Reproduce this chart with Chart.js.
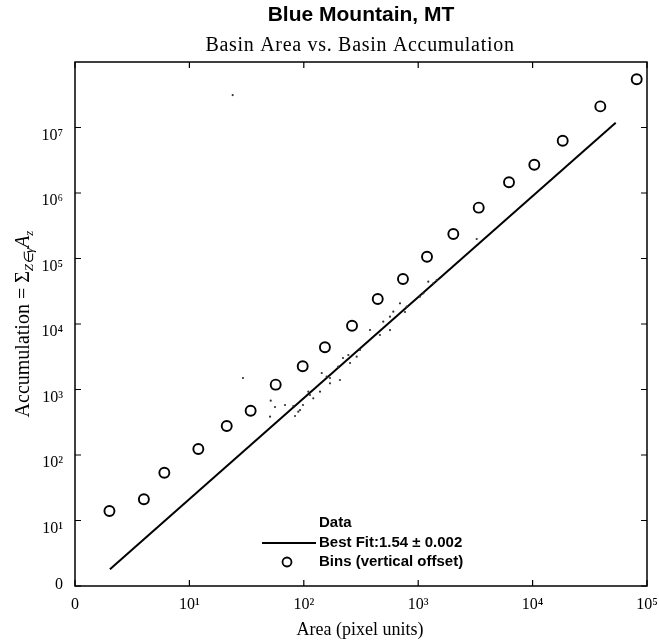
<!DOCTYPE html>
<html>
<head>
<meta charset="utf-8">
<script src="https://cdn.jsdelivr.net/npm/chart.js@4.4.1/dist/chart.umd.min.js"></script>
<style>
  html, body { margin: 0; padding: 0; background: #fff; }
  #wrap { width: 659px; height: 640px; }
</style>
</head>
<body>
<div id="wrap"><canvas id="c" width="659" height="640"></canvas></div>
<script>
// ---- data ----
const xTickValues = [1, 10, 100, 1000, 10000, 100000];
const xTickLabels = ['0', '10¹', '10²', '10³', '10⁴', '10⁵'];
const yTickValues = [1, 10, 100, 1000, 10000, 100000, 1000000, 10000000];
const yTickLabels = ['0', '10¹', '10²', '10³', '10⁴', '10⁵', '10⁶', '10⁷'];

const binArea  = [2.0, 4.0, 6.04, 11.97, 21.2, 34.3, 56.8, 97.8, 153, 264, 443, 736, 1194, 2028, 3381, 6219, 10350, 18330, 39080, 81300];
const binAccum = [14.0, 21.1, 53.7, 123.5, 277, 475, 1185, 2259, 4408, 9420, 24100, 48600, 106600, 236600, 597000, 1456000, 2700000, 6290000, 21000000, 54400000];

const fitArea  = [2.02, 53260];
const fitAccum = [1.80, 11800000];

const dataArea  = [29.4, 51.4, 56.0, 50.7, 92.7, 98.4, 138.6, 143.5, 207, 220, 253.6, 290, 567, 693, 1037, 1225, 379, 1452, 3246, 68.5, 83.8, 113.3, 169.4, 310, 463, 767, 23.9,
                   81, 109.5, 158.5, 200, 245, 169.4, 121, 89.5, 495, 606, 793, 1109, 1355, 567];
const dataAccum = [1499, 675, 541, 385, 486, 580, 925, 1786, 1396, 3027, 2539, 3170, 12940, 20700, 26100, 44200, 8100, 47000, 198500, 580, 394, 824, 1499, 4010, 6790, 15250, 31300000,
                   560, 926, 1568, 2230, 3365, 1244, 734, 458, 10840, 15400, 18370, 29400, 41800, 8090];

const titleText = 'Blue Mountain, MT';
const subtitleText = 'Basin Area vs. Basin Accumulation';
const xTitleText = 'Area (pixel units)';
const legendLabels = ['Data', 'Best Fit:1.54 ± 0.002', 'Bins (vertical offset)'];

const zip = (xs, ys) => xs.map((x, i) => ({ x: x, y: ys[i] }));

const SERIF = '"Liberation Serif", "Times New Roman", serif';
const SANS = '"Liberation Sans", Arial, sans-serif';

const framePlugin = {
  id: 'frame',
  afterDraw(chart) {
    const ctx = chart.ctx;
    const a = chart.chartArea;
    const xs = chart.scales.x, ys = chart.scales.y;
    ctx.save();
    // box
    ctx.strokeStyle = '#000';
    ctx.lineWidth = 1.5;
    ctx.strokeRect(a.left, a.top, a.right - a.left, a.bottom - a.top);
    // inward ticks
    ctx.lineWidth = 1.2;
    const tl = 6;
    ctx.beginPath();
    xTickValues.forEach(v => {
      const px = xs.getPixelForValue(v);
      ctx.moveTo(px, a.bottom); ctx.lineTo(px, a.bottom - tl);
      ctx.moveTo(px, a.top); ctx.lineTo(px, a.top + tl);
    });
    yTickValues.forEach(v => {
      const py = ys.getPixelForValue(v);
      ctx.moveTo(a.left, py); ctx.lineTo(a.left + tl, py);
      ctx.moveTo(a.right, py); ctx.lineTo(a.right - tl, py);
    });
    ctx.stroke();

    // titles
    ctx.fillStyle = '#000';
    ctx.textAlign = 'center';
    ctx.textBaseline = 'middle';
    ctx.font = 'bold 21px ' + SANS;
    ctx.fillText(titleText, 361, 15);
    ctx.font = '20px ' + SERIF;
    try { ctx.letterSpacing = '0.7px'; } catch (e) {}
    ctx.fillText(subtitleText, 360, 46);
    try { ctx.letterSpacing = '0px'; } catch (e) {}
    ctx.font = '18px ' + SERIF;
    ctx.fillText(xTitleText, 360, 630);

    // y title (rotated, with subscripts)
    const parts = [
      { t: 'Accumulation = Σ', f: '20px ' + SERIF, dy: 0 },
      { t: 'Z∈γ', f: 'italic 13px ' + SERIF, dy: 6 },
      { t: 'A', f: 'italic 20px ' + SERIF, dy: 0 },
      { t: 'z', f: 'italic 13px ' + SERIF, dy: 6 }
    ];
    let total = 0;
    parts.forEach(p => { ctx.font = p.f; p.w = ctx.measureText(p.t).width; total += p.w; });
    ctx.save();
    ctx.translate(24, 324);
    ctx.rotate(-Math.PI / 2);
    ctx.textAlign = 'left';
    ctx.textBaseline = 'middle';
    let cx = -total / 2;
    parts.forEach(p => { ctx.font = p.f; ctx.fillText(p.t, cx, p.dy); cx += p.w; });
    ctx.restore();

    // legend
    ctx.textAlign = 'left';
    ctx.textBaseline = 'middle';
    ctx.font = 'bold 15px ' + SANS;
    const lx = 319;
    ctx.fillText(legendLabels[0], lx, 523);
    ctx.fillText(legendLabels[1], lx, 543);
    ctx.fillText(legendLabels[2], lx, 562);
    ctx.lineWidth = 2;
    ctx.beginPath();
    ctx.moveTo(262, 543); ctx.lineTo(316, 543);
    ctx.stroke();
    ctx.lineWidth = 1.8;
    ctx.beginPath();
    ctx.arc(287, 562, 4.5, 0, Math.PI * 2);
    ctx.stroke();
    ctx.restore();
  }
};

new Chart(document.getElementById('c'), {
  type: 'scatter',
  data: {
    datasets: [
      {
        label: legendLabels[0],
        data: zip(dataArea, dataAccum),
        pointRadius: 1.1,
        pointBackgroundColor: '#333',
        pointBorderWidth: 0,
        showLine: false
      },
      {
        label: legendLabels[1],
        data: zip(fitArea, fitAccum),
        showLine: true,
        borderColor: '#000',
        borderWidth: 2,
        pointRadius: 0
      },
      {
        label: legendLabels[2],
        data: zip(binArea, binAccum),
        showLine: false,
        pointStyle: 'circle',
        pointRadius: 5,
        pointBorderWidth: 1.9,
        pointBorderColor: '#000',
        pointBackgroundColor: 'rgba(0,0,0,0)'
      }
    ]
  },
  options: {
    responsive: false,
    animation: false,
    layout: { padding: { left: 0, right: 12, top: 62, bottom: 0 } },
    plugins: { legend: { display: false }, tooltip: { enabled: false }, title: { display: false } },
    scales: {
      x: {
        type: 'logarithmic',
        min: 1, max: 100000,
        grid: { display: false, drawTicks: false },
        border: { display: false },
        afterBuildTicks: s => { s.ticks = xTickValues.map(v => ({ value: v })); },
        afterFit: s => { s.height = 54; s.paddingLeft = 0; s.paddingRight = 0; },
        ticks: {
          autoSkip: false,
          maxRotation: 0,
          padding: 9,
          color: '#000',
          font: { family: SERIF, size: 16 },
          callback: (v) => xTickLabels[xTickValues.indexOf(v)]
        }
      },
      y: {
        type: 'logarithmic',
        min: 1, max: 100000000,
        grid: { display: false, drawTicks: false },
        border: { display: false },
        afterBuildTicks: s => { s.ticks = yTickValues.map(v => ({ value: v })); },
        afterFit: s => { s.width = 75; s.paddingTop = 0; s.paddingBottom = 0; },
        ticks: {
          autoSkip: false,
          padding: 12,
          labelOffset: 8,
          color: '#000',
          font: { family: SERIF, size: 16 },
          callback: (v) => {
            const i = yTickValues.indexOf(v);
            return i === 0 ? [yTickLabels[0], ''] : yTickLabels[i];
          }
        }
      }
    }
  },
  plugins: [framePlugin]
});
</script>
</body>
</html>
